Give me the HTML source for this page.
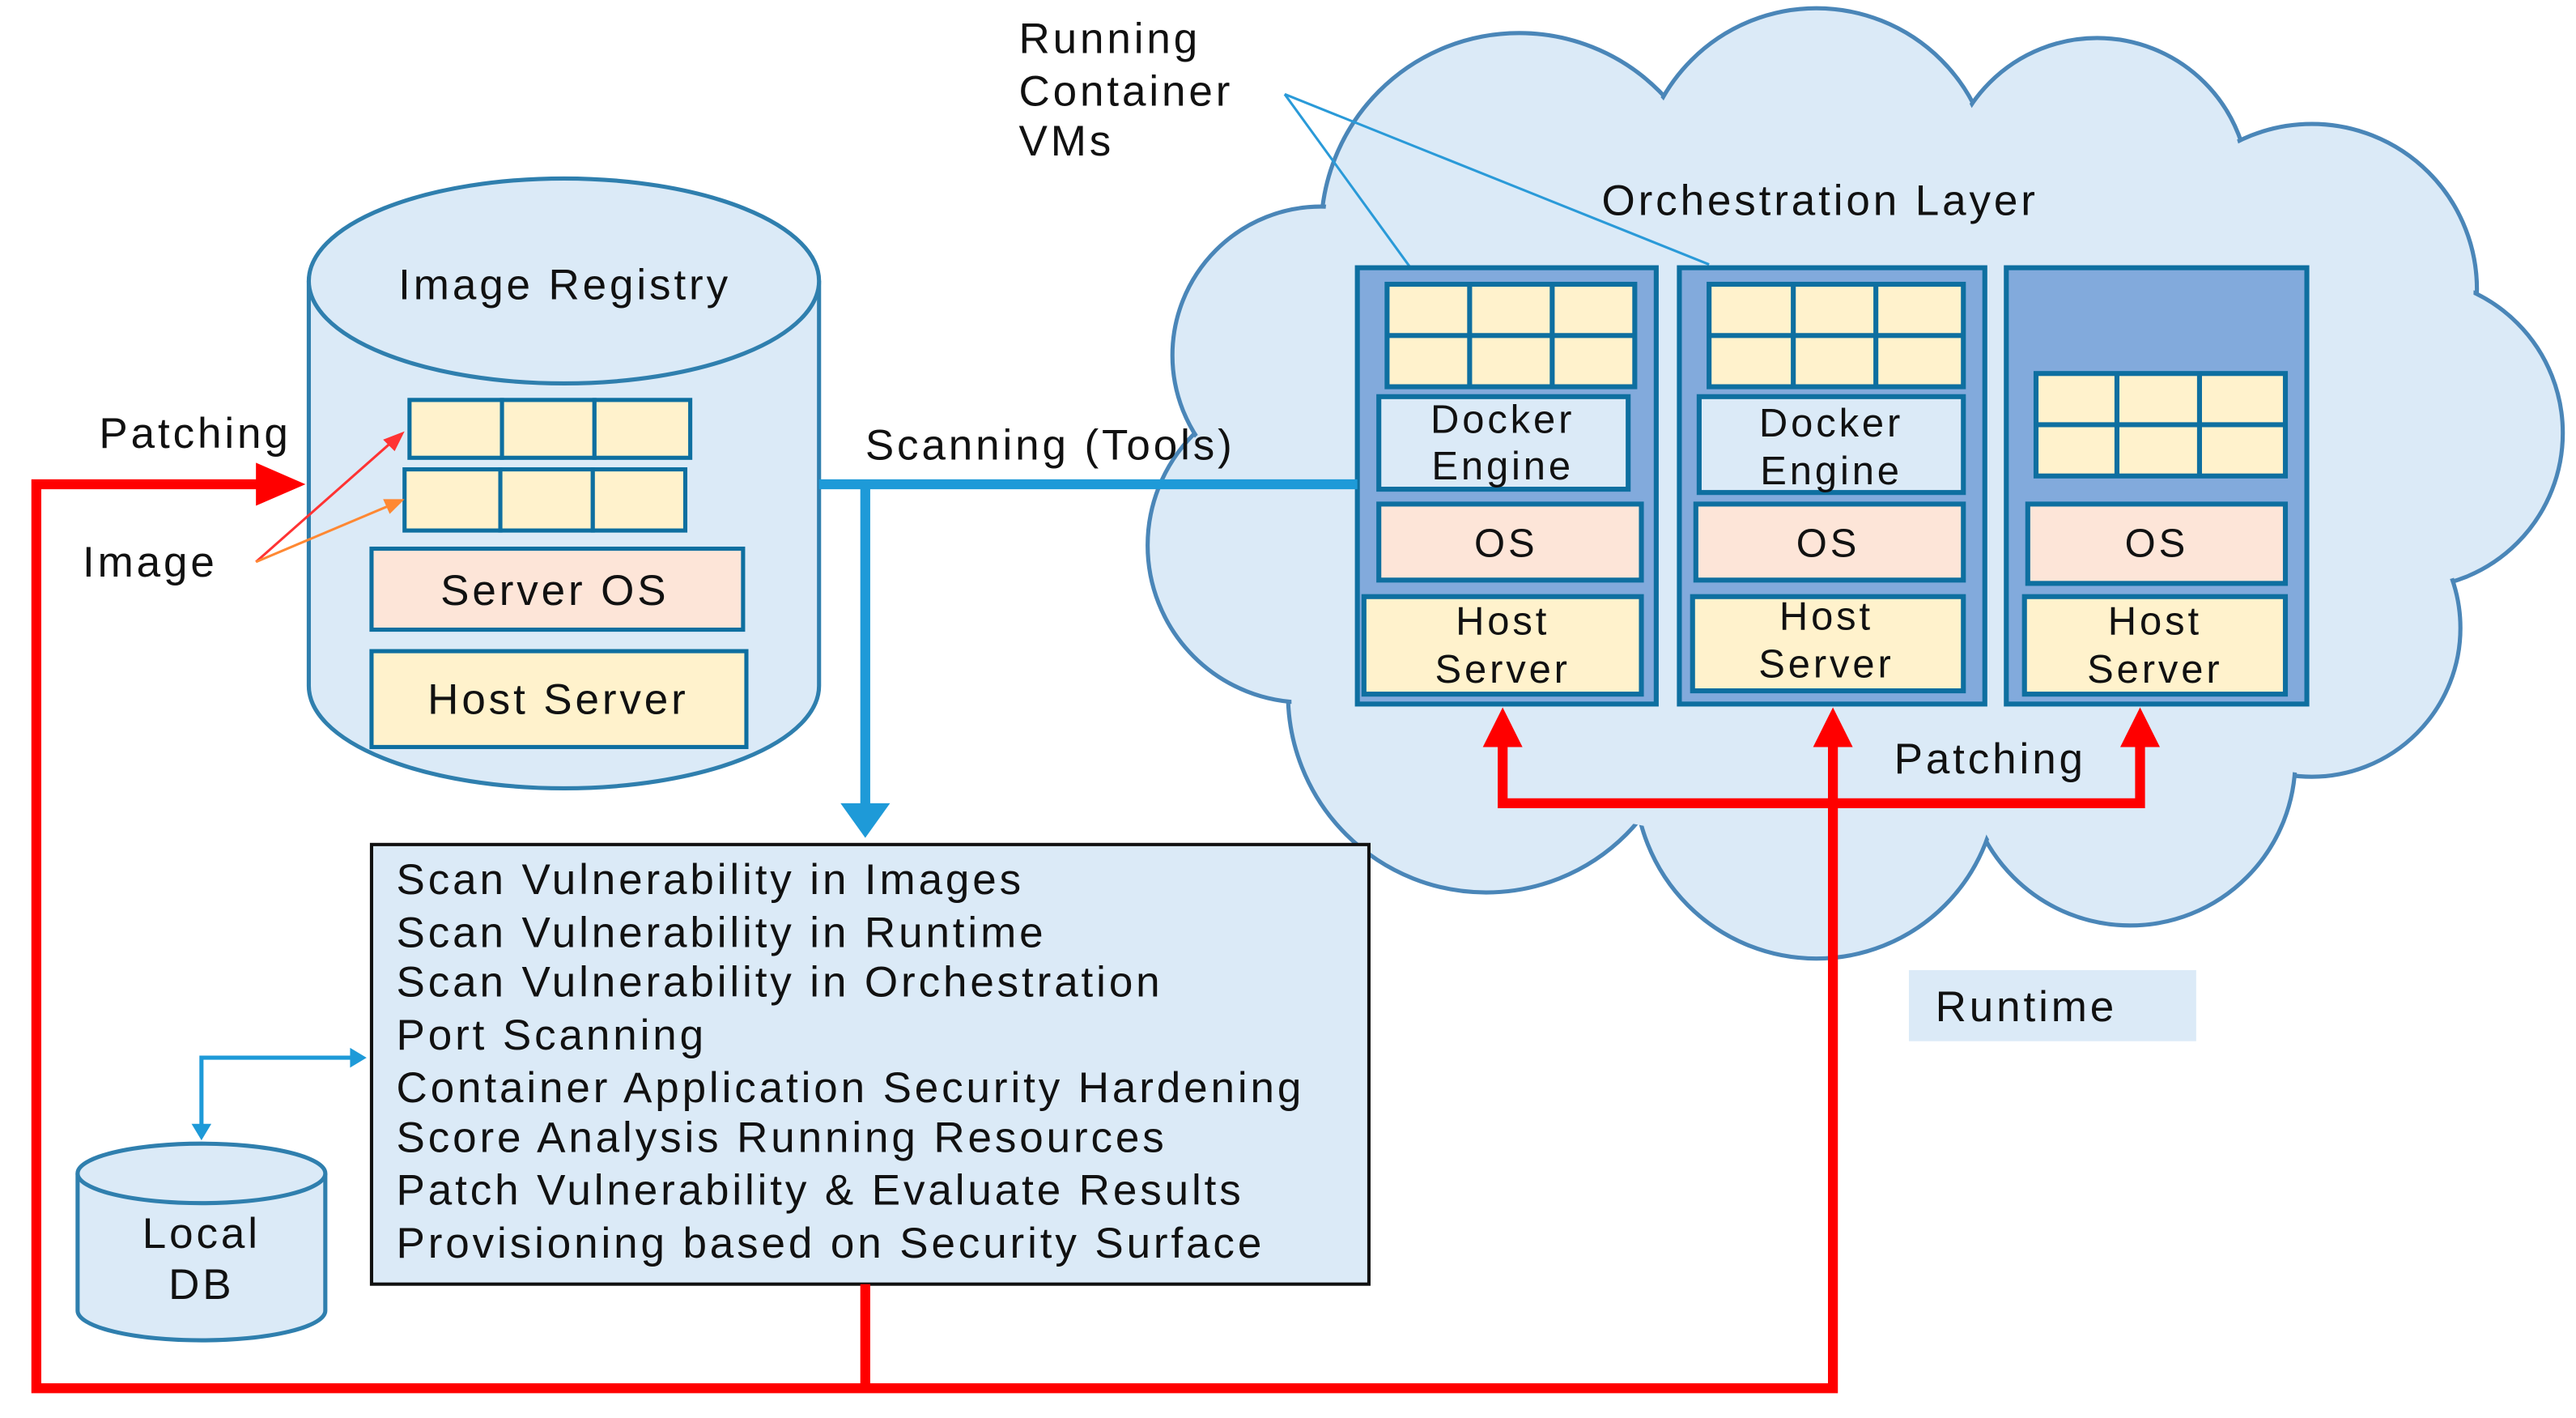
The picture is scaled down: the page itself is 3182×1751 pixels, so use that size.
<!DOCTYPE html>
<html><head><meta charset="utf-8"><style>html,body{margin:0;padding:0;background:#fff}svg{display:block}text{font-family:"Liberation Sans",Arial,sans-serif;fill:#111;letter-spacing:1.9px}</style></head>
<body>
<svg width="3182" height="1751" viewBox="0 0 1560 858" preserveAspectRatio="none" xmlns="http://www.w3.org/2000/svg">
<!-- cloud -->
<g stroke="#4a86b8" stroke-width="2.5" fill="#dbeaf7">
<circle cx="920" cy="140" r="120"/><circle cx="1100" cy="112" r="107"/><circle cx="1270" cy="115" r="92"/>
<circle cx="1400" cy="175" r="100"/><circle cx="1458" cy="262" r="94"/><circle cx="1400" cy="380" r="90"/>
<circle cx="1290" cy="460" r="100"/><circle cx="1100" cy="470" r="110"/><circle cx="900" cy="420" r="120"/>
<circle cx="790" cy="330" r="95"/><circle cx="800" cy="215" r="90"/>
</g>
<g fill="#dbeaf7">
<circle cx="920" cy="140" r="118"/><circle cx="1100" cy="112" r="105"/><circle cx="1270" cy="115" r="90"/>
<circle cx="1400" cy="175" r="98"/><circle cx="1458" cy="262" r="92"/><circle cx="1400" cy="380" r="88"/>
<circle cx="1290" cy="460" r="98"/><circle cx="1100" cy="470" r="108"/><circle cx="900" cy="420" r="118"/>
<circle cx="790" cy="330" r="93"/><circle cx="800" cy="215" r="88"/>
<ellipse cx="1110" cy="300" rx="370" ry="210"/>
</g>
<text x="970" y="130" font-size="26">Orchestration Layer</text>
<text x="617" y="32" font-size="26">Running</text>
<text x="617" y="64" font-size="26">Container</text>
<text x="617" y="94" font-size="26">VMs</text>
<line x1="778" y1="57" x2="860" y2="170" stroke="#2a9ad8" stroke-width="1.5"/>
<line x1="778" y1="57" x2="1035" y2="160" stroke="#2a9ad8" stroke-width="1.5"/>
<!-- containers -->
<g stroke="#0e6fa0" stroke-width="3">
<rect x="822" y="162" width="181" height="264" fill="#82aadc"/>
<rect x="1017" y="162" width="185" height="264" fill="#82aadc"/>
<rect x="1215" y="162" width="182" height="264" fill="#82aadc"/>
<rect x="840" y="172" width="150" height="62" fill="#fff2cc"/>
<line x1="840" y1="203" x2="990" y2="203"/><line x1="890" y1="172" x2="890" y2="234"/><line x1="940" y1="172" x2="940" y2="234"/>
<rect x="835" y="240" width="151" height="56" fill="#dbeaf7"/>
<rect x="835" y="305" width="159" height="46" fill="#fde5d8"/>
<rect x="826" y="361" width="168" height="59" fill="#fff2cc"/>
<rect x="1035" y="172" width="154" height="62" fill="#fff2cc"/>
<line x1="1035" y1="203" x2="1189" y2="203"/><line x1="1086" y1="172" x2="1086" y2="234"/><line x1="1136" y1="172" x2="1136" y2="234"/>
<rect x="1029" y="240" width="160" height="58" fill="#dbeaf7"/>
<rect x="1027" y="305" width="162" height="46" fill="#fde5d8"/>
<rect x="1025" y="361" width="164" height="57" fill="#fff2cc"/>
<rect x="1233" y="226" width="151" height="62" fill="#fff2cc"/>
<line x1="1233" y1="257" x2="1384" y2="257"/><line x1="1282" y1="226" x2="1282" y2="288"/><line x1="1332" y1="226" x2="1332" y2="288"/>
<rect x="1228" y="305" width="156" height="48" fill="#fde5d8"/>
<rect x="1226" y="361" width="158" height="59" fill="#fff2cc"/>
</g>
<g font-size="24" text-anchor="middle">
<text x="910" y="262">Docker</text><text x="910" y="290">Engine</text>
<text x="1109" y="264">Docker</text><text x="1109" y="293">Engine</text>
<text x="912" y="337">OS</text><text x="1107" y="337">OS</text><text x="1306" y="337">OS</text>
<text x="910" y="384">Host</text><text x="910" y="413">Server</text>
<text x="1106" y="381">Host</text><text x="1106" y="410">Server</text>
<text x="1305" y="384">Host</text><text x="1305" y="413">Server</text>
</g>
<!-- image registry cylinder -->
<path d="M187,170 L187,415 A154.5,62 0 0 0 496,415 L496,170" fill="#dbeaf7" stroke="#2f7fae" stroke-width="2.5"/>
<ellipse cx="341.5" cy="170" rx="154.5" ry="62" fill="#dbeaf7" stroke="#2f7fae" stroke-width="2.5"/>
<text x="342" y="181" font-size="26" text-anchor="middle">Image Registry</text>
<g stroke="#0e6fa0" stroke-width="2.5" fill="#fff2cc">
<rect x="248" y="242" width="56" height="35"/><rect x="304" y="242" width="56" height="35"/><rect x="360" y="242" width="58" height="35"/>
<rect x="245" y="284" width="58" height="37"/><rect x="303" y="284" width="56" height="37"/><rect x="359" y="284" width="56" height="37"/>
<rect x="225" y="332" width="225" height="49" fill="#fde5d8"/>
<rect x="225" y="394" width="227" height="58"/>
</g>
<text x="336" y="366" font-size="26" text-anchor="middle">Server OS</text>
<text x="338" y="432" font-size="26" text-anchor="middle">Host Server</text>
<text x="60" y="271" font-size="26">Patching</text>
<text x="50" y="349" font-size="26">Image</text>
<line x1="155" y1="340" x2="240" y2="265" stroke="#f33" stroke-width="1.5"/>
<path d="M245,261 L232,266 L239,273z" fill="#f33"/>
<line x1="155" y1="340" x2="238" y2="305" stroke="#f83" stroke-width="1.5"/>
<path d="M245,302 L232,302 L236,311z" fill="#f83"/>
<!-- scanning blue -->
<line x1="496" y1="293" x2="822" y2="293" stroke="#1e9ad8" stroke-width="6"/>
<line x1="524" y1="293" x2="524" y2="488" stroke="#1e9ad8" stroke-width="6"/>
<path d="M509,486 L539,486 L524,507z" fill="#1e9ad8"/>
<text x="524" y="278" font-size="26">Scanning (Tools)</text>
<!-- scan box -->
<rect x="225" y="511" width="604" height="266" fill="#dbeaf7" stroke="#111" stroke-width="2"/>
<g font-size="26">
<text x="240" y="541">Scan Vulnerability in Images</text>
<text x="240" y="573">Scan Vulnerability in Runtime</text>
<text x="240" y="603">Scan Vulnerability in Orchestration</text>
<text x="240" y="635">Port Scanning</text>
<text x="240" y="667">Container Application Security Hardening</text>
<text x="240" y="697">Score Analysis Running Resources</text>
<text x="240" y="729">Patch Vulnerability &amp; Evaluate Results</text>
<text x="240" y="761">Provisioning based on Security Surface</text>
</g>
<!-- local db -->
<path d="M47,710 L47,793 A75,18 0 0 0 197,793 L197,710" fill="#dbeaf7" stroke="#2f7fae" stroke-width="2.5"/>
<ellipse cx="122" cy="710" rx="75" ry="18" fill="#dbeaf7" stroke="#2f7fae" stroke-width="2.5"/>
<text x="122" y="755" font-size="26" text-anchor="middle">Local</text>
<text x="122" y="786" font-size="26" text-anchor="middle">DB</text>
<polyline points="122,682 122,640 214,640" fill="none" stroke="#1e9ad8" stroke-width="2.5"/>
<path d="M116,680 L128,680 L122,690z M212,634 L222,640 L212,646z" fill="#1e9ad8"/>
<!-- red -->
<g stroke="#f00" stroke-width="6" fill="none">
<polyline points="160,293 22,293 22,840 1110,840 1110,450"/>
<line x1="524" y1="777" x2="524" y2="840"/>
<polyline points="910,450 910,486 1296,486 1296,450"/>
</g>
<g fill="#f00">
<path d="M155,280 L185,293 L155,306z"/>
<path d="M898,452 L922,452 L910,428z"/>
<path d="M1098,452 L1122,452 L1110,428z"/>
<path d="M1284,452 L1308,452 L1296,428z"/>
</g>
<text x="1147" y="468" font-size="26">Patching</text>
<rect x="1156" y="587" width="174" height="43" fill="#dbeaf7"/>
<text x="1172" y="618" font-size="26">Runtime</text>
</svg>
</body></html>
